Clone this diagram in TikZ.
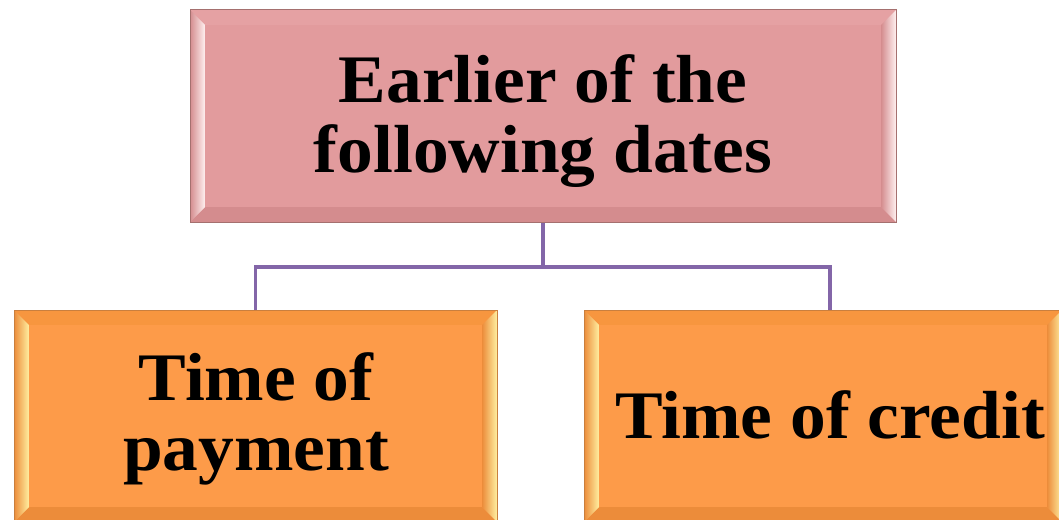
\documentclass[tikz,border=0pt]{standalone}
\usepackage{fontspec}
\setmainfont{Liberation Serif}[FakeStretch=1.05]
\usetikzlibrary{calc}
\definecolor{pinkmain}{HTML}{E29B9D}
\definecolor{pinkedge}{HTML}{A5706F}
\definecolor{pinklight}{HTML}{E5A1A3}
\definecolor{pinkhi}{HTML}{FFF0F0}
\definecolor{pinkdark}{HTML}{D48C8E}
\definecolor{orgmain}{HTML}{FD9B49}
\definecolor{orgedge}{HTML}{C97F3E}
\definecolor{orglight}{HTML}{F7963F}
\definecolor{orghi}{HTML}{FFEFA0}
\definecolor{orgdark}{HTML}{EC8C3A}
\definecolor{linkpurple}{HTML}{8366A8}
\tikzset{
  bevelbox/.style n args={5}{
    rectangle, inner sep=0pt,
    fill=#1, draw=#2, line width=1pt,
    path picture={
      \coordinate (pnw) at (path picture bounding box.north west);
      \coordinate (pse) at (path picture bounding box.south east);
      \coordinate (pne) at (path picture bounding box.north east);
      \coordinate (psw) at (path picture bounding box.south west);
      \coordinate (inw) at ($(pnw)+(15pt,-15pt)$);
      \coordinate (ine) at ($(pne)+(-15pt,-15pt)$);
      \coordinate (isw) at ($(psw)+(15pt,15pt)$);
      \coordinate (ise) at ($(pse)+(-15pt,15pt)$);
      \fill[#3] (pnw) -- (pne) -- (ine) -- (inw) -- cycle;
      \fill[#5] (psw) -- (pse) -- (ise) -- (isw) -- cycle;
      \shade[left color=#5, right color=#4] (pnw) -- (psw) -- (isw) -- (inw) -- cycle;
      \shade[left color=#5, right color=#4] (pne) -- (pse) -- (ise) -- (ine) -- cycle;
      \fill[#1] (inw) rectangle (ise);
    }
  },
  boxtext/.style={anchor=base, inner sep=0pt, align=center,
    font=\bfseries\fontsize{68}{70}\selectfont},
  link/.style={draw=linkpurple, line width=3.5pt}
}
\begin{document}
\begin{tikzpicture}[x=1pt,y=-1pt]
\useasboundingbox (0,0) rectangle (1059,519);
\node[bevelbox={pinkmain}{pinkedge}{pinklight}{pinkhi}{pinkdark},
      minimum width=706pt, minimum height=212pt] (top) at (543,116) {};
\node[bevelbox={orgmain}{orgedge}{orglight}{orghi}{orgdark},
      minimum width=483pt, minimum height=212pt] (left) at (255.5,416) {};
\node[bevelbox={orgmain}{orgedge}{orglight}{orghi}{orgdark},
      minimum width=478pt, minimum height=212pt] (right) at (823,416) {};
\node[boxtext] (toptext) at (543,172) {Earlier of the\\following dates};
\node[boxtext] (lefttext) at (256,470) {Time of\\payment};
\node[boxtext] (righttext) at (830,438) {Time of credit};
\coordinate (j) at (543,267);
\coordinate (rt) at ([xshift=7pt]right.north);
\draw[link] (top.south) -- (j) -| (left.north);
\draw[link] (j) -| (rt);
\end{tikzpicture}
\end{document}
